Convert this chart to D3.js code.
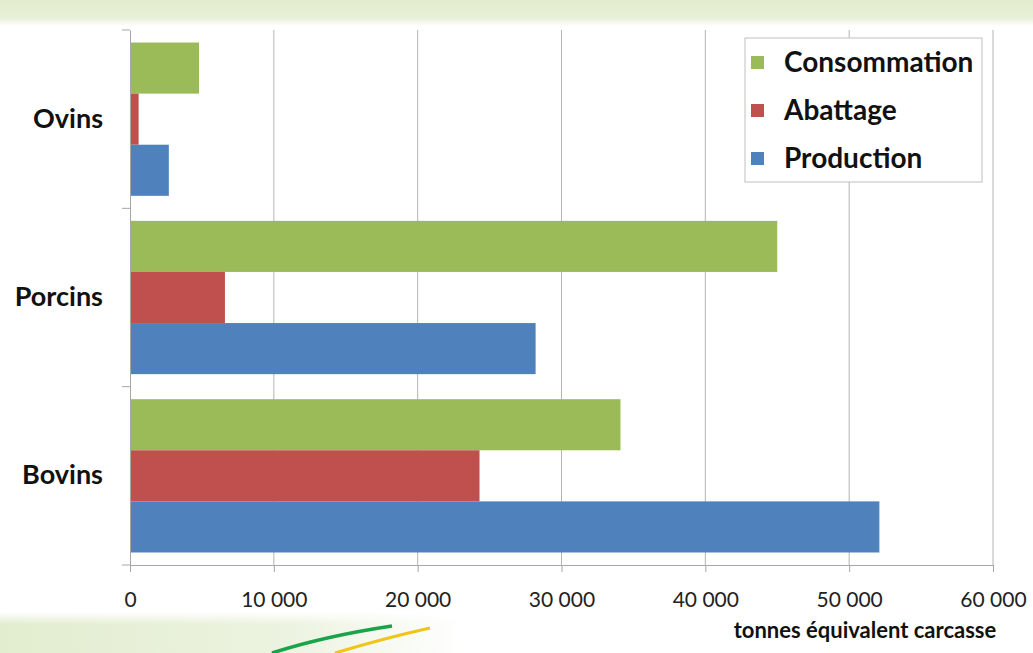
<!DOCTYPE html>
<html>
<head>
<meta charset="utf-8">
<script src="https://cdn.jsdelivr.net/npm/d3@7"></script>
<style>
  body { margin: 0; background: #fff; }
  svg { display: block; font-family: Lato, "Open Sans", sans-serif; }
</style>
</head>
<body>
<svg id="chart"></svg>
<script>
var categories = ["Ovins", "Porcins", "Bovins"];
var series = ["Consommation", "Abattage", "Production"];
var consommation = [4800, 45000, 34100];
var abattage = [600, 6600, 24300];
var production = [2700, 28200, 52100];
var xTicks = [0, 10000, 20000, 30000, 40000, 50000, 60000];
var colors = ["#9bbb59", "#c0504d", "#4f81bd"];

var width = 1033, height = 653;
var svg = d3.select("#chart").attr("width", width).attr("height", height);

// background bands
var defs = svg.append("defs");
var gTop = defs.append("linearGradient").attr("id", "gtop").attr("x1", 0).attr("y1", 0).attr("x2", 0).attr("y2", 1);
gTop.append("stop").attr("offset", "0%").attr("stop-color", "#e3ecce");
gTop.append("stop").attr("offset", "70%").attr("stop-color", "#e8f0d8");
gTop.append("stop").attr("offset", "100%").attr("stop-color", "#ffffff");
var gBot = defs.append("linearGradient").attr("id", "gbot").attr("x1", 0).attr("y1", 0).attr("x2", 1).attr("y2", 0);
gBot.append("stop").attr("offset", "0%").attr("stop-color", "#e2edcf");
gBot.append("stop").attr("offset", "28%").attr("stop-color", "#ecf3e0");
gBot.append("stop").attr("offset", "45%").attr("stop-color", "#ffffff");
var gBotV = defs.append("linearGradient").attr("id", "gbotv").attr("x1", 0).attr("y1", 0).attr("x2", 0).attr("y2", 1);
gBotV.append("stop").attr("offset", "0%").attr("stop-color", "#fff").attr("stop-opacity", 1);
gBotV.append("stop").attr("offset", "30%").attr("stop-color", "#fff").attr("stop-opacity", 0);

svg.append("rect").attr("width", width).attr("height", 26).attr("fill", "url(#gtop)");
svg.append("rect").attr("y", 612).attr("width", width).attr("height", 41).attr("fill", "url(#gbot)");
svg.append("rect").attr("y", 612).attr("width", width).attr("height", 41).attr("fill", "url(#gbotv)");

// decorative strokes
svg.append("path").attr("d", "M272,653 Q325,636 392,626").attr("fill", "none")
  .attr("stroke", "#1aa34a").attr("stroke-width", 3.5);
svg.append("path").attr("d", "M335,653 Q385,638 430,628").attr("fill", "none")
  .attr("stroke", "#f0c419").attr("stroke-width", 3);

var x = d3.scaleLinear().domain([0, 60000]).range([130, 993]);
var y = d3.scaleBand().domain(categories).range([30, 565]).paddingInner(0).paddingOuter(0);
var ySub = d3.scaleBand().domain(series).range([0, y.bandwidth()]).paddingInner(0).paddingOuter(0.245);

var values = [consommation, abattage, production];

// gridlines
svg.append("g").selectAll("line").data(xTicks.slice(1)).join("line")
  .attr("x1", d => x(d)).attr("x2", d => x(d))
  .attr("y1", 30).attr("y2", 565)
  .attr("stroke", "#b4b4b4").attr("stroke-width", 1);

// bars
var groups = svg.append("g").selectAll("g").data(categories).join("g")
  .attr("transform", d => "translate(0," + y(d) + ")");
groups.selectAll("rect").data((c, i) => series.map((s, j) => ({s: s, v: values[j][i], j: j}))).join("rect")
  .attr("x", x(0))
  .attr("y", d => ySub(d.s))
  .attr("width", d => x(d.v) - x(0))
  .attr("height", ySub.bandwidth())
  .attr("fill", d => colors[d.j]);

// x axis
var xAxis = d3.axisBottom(x).tickValues(xTicks).tickSize(7).tickPadding(20)
  .tickFormat(d => d3.format(",")(d).replace(/,/g, " "));
var gx = svg.append("g").attr("transform", "translate(0,565)").call(xAxis);
gx.select(".domain").attr("stroke", "#a6a6a6");
gx.selectAll(".tick line").attr("stroke", "#a6a6a6");
gx.selectAll("text").attr("font-size", 21).attr("fill", "#222").attr("font-family", "Lato, sans-serif");

// y axis
var yAxis = d3.axisLeft(y).tickSize(0).tickPadding(27);
var gy = svg.append("g").attr("transform", "translate(130,0)").call(yAxis);
gy.select(".domain").attr("stroke", "#a6a6a6");
gy.selectAll("text").attr("font-size", 27).attr("font-weight", "bold").attr("fill", "#111")
  .attr("font-family", "Lato, sans-serif");
gy.append("g").selectAll("line").data(categories.concat(["end"])).join("line")
  .attr("x1", -8).attr("x2", 0)
  .attr("y1", (d, i) => i < categories.length ? y(d) : y.range()[1])
  .attr("y2", (d, i) => i < categories.length ? y(d) : y.range()[1])
  .attr("stroke", "#a6a6a6");

// axis title
svg.append("text").attr("x", 865).attr("y", 638).attr("text-anchor", "middle")
  .attr("font-size", 22).attr("font-weight", "bold").attr("fill", "#111")
  .text("tonnes \u00e9quivalent carcasse");

// legend
var leg = svg.append("g").attr("transform", "translate(745,38)");
leg.append("rect").attr("width", 237).attr("height", 144).attr("fill", "#fff")
  .attr("stroke", "#bfbfbf");
var items = leg.selectAll("g.item").data(series).join("g").attr("class", "item")
  .attr("transform", (d, i) => "translate(0," + (24 + i * 48) + ")");
items.append("rect").attr("x", 6).attr("y", -6).attr("width", 13).attr("height", 13)
  .attr("fill", (d, i) => colors[i]);
items.append("text").attr("x", 39).attr("dy", "0.35em").attr("font-size", 28)
  .attr("font-weight", "bold").attr("fill", "#111").text(d => d);
</script>
</body>
</html>
